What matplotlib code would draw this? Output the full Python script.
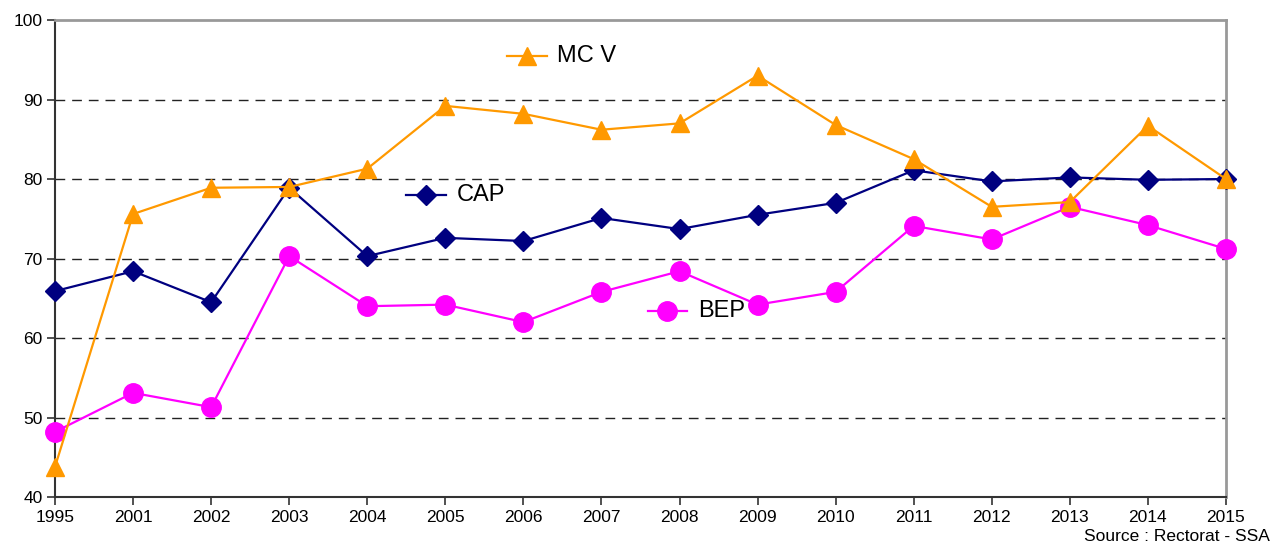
import matplotlib
matplotlib.use('Agg')
import matplotlib.pyplot as plt
from matplotlib.lines import Line2D

plt.rcParams['font.family'] = ['Liberation Sans', 'DejaVu Sans']

years = ['1995', '2001', '2002', '2003', '2004', '2005', '2006', '2007',
         '2008', '2009', '2010', '2011', '2012', '2013', '2014', '2015']
cap = [65.9, 68.4, 64.5, 78.9, 70.3, 72.6, 72.2, 75.1,
       73.7, 75.5, 77.0, 81.1, 79.7, 80.2, 79.9, 80.0]
mcv = [43.8, 75.6, 78.9, 79.0, 81.3, 89.2, 88.2, 86.2,
       87.0, 93.0, 86.8, 82.5, 76.5, 77.1, 86.7, 80.0]
bep = [48.2, 53.1, 51.3, 70.3, 64.0, 64.2, 62.0, 65.8,
       68.4, 64.2, 65.8, 74.1, 72.4, 76.5, 74.2, 71.2]

NAVY = '#000080'
ORANGE = '#FF9900'
MAGENTA = '#FF00FF'

fig = plt.figure(figsize=(12.74, 5.47), dpi=100)
ax = fig.add_axes([0.0432, 0.0914, 0.9191, 0.872])

x = list(range(len(years)))
ax.plot(x, cap, color=NAVY, lw=1.6, marker='D', ms=10, zorder=3, clip_on=False)
ax.plot(x, bep, color=MAGENTA, lw=1.6, marker='o', ms=14, zorder=3, clip_on=False)
ax.plot(x, mcv, color=ORANGE, lw=1.6, marker='^', ms=13, zorder=4, clip_on=False)

ax.set_xlim(0, len(years) - 1)
ax.set_ylim(40, 100)
ax.set_xticks(x)
ax.set_xticklabels(years)
ax.set_yticks(range(40, 101, 10))
ax.tick_params(axis='both', direction='out', length=6, width=1.2,
               labelsize=12.5, color='#333333', pad=3)

for v in range(50, 100, 10):
    ax.axhline(v, color='#222222', lw=1, ls=(0, (7, 5)), zorder=1)

ax.spines['left'].set_color('#333333')
ax.spines['bottom'].set_color('#333333')
ax.spines['left'].set_linewidth(1.5)
ax.spines['bottom'].set_linewidth(1.5)
ax.spines['top'].set_color('#999999')
ax.spines['right'].set_color('#999999')
ax.spines['top'].set_linewidth(2)
ax.spines['right'].set_linewidth(2)

# inline series labels
labels = [('MC V', ORANGE, '^', 13, 0.386, 0.924),
          ('CAP', NAVY, 'D', 10, 0.300, 0.634),
          ('BEP', MAGENTA, 'o', 14, 0.506, 0.389)]
for name, col, mk, size, lx, ly in labels:
    ax.add_line(Line2D([lx, lx + 0.034], [ly, ly], transform=ax.transAxes,
                       color=col, lw=1.6, clip_on=False))
    ax.add_line(Line2D([lx + 0.017], [ly], transform=ax.transAxes,
                       color=col, marker=mk, ms=size, clip_on=False))
    ax.text(lx + 0.043, ly, name, transform=ax.transAxes, fontsize=17,
            va='center', ha='left', color='black')

fig.text(0.997, 0.005, 'Source : Rectorat - SSA', ha='right', va='bottom',
         fontsize=12.5)

fig.savefig('out.png', dpi=100)
